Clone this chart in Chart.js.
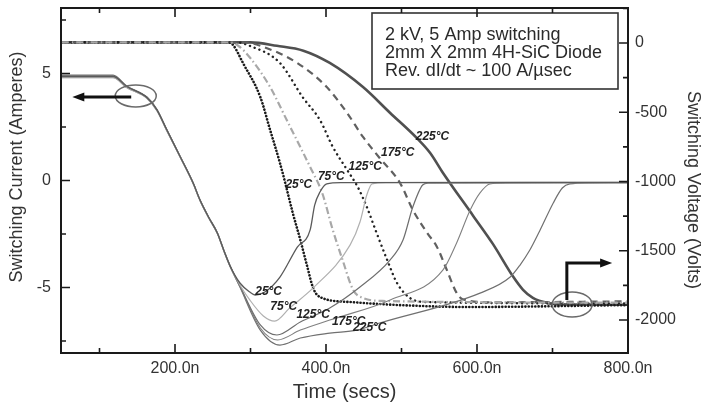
<!DOCTYPE html>
<html>
<head>
<meta charset="utf-8">
<script src="https://cdn.jsdelivr.net/npm/chart.js@4.4.1/dist/chart.umd.min.js"></script>
<style>
  html, body { margin: 0; padding: 0; background: #fff; }
  canvas { display: block; }
</style>
</head>
<body>
<canvas id="switchingChart" width="704" height="404"></canvas>
<script>
// Axis ticks (time in ns, current in A, voltage in V)
const timeTicks = [200, 400, 600, 800];
const timeMinor = [100, 300, 500, 700];
const currentTicks = [-5, 0, 5];
const currentMinor = [-7.5, -2.5, 2.5, 7.5];
const voltageTicks = [0, -500, -1000, -1500, -2000];
const voltageMinor = [250, -250, -750, -1250, -1750];

const temps = ['25°C', '75°C', '125°C', '175°C', '225°C'];

// Diode current during turn-off, [time ns, amperes]
const current25 = [[50,4.86],[118,4.86],[136,4.39],[163,3.87],[176,3.3],[189,2.37],[207,1.1],[224,-0.12],[233,-0.91],[245,-1.75],[256,-2.45],[265,-3.3],[273,-4.0],[286,-4.79],[299,-5.21],[306,-5.35],[319,-5.21],[339,-4.51],[362,-3.11],[379,-2.31],[385,-1.15],[392,-0.54],[401,-0.16],[420,-0.1],[800,-0.09]];
const current75 = [[50,4.82],[118,4.82],[136,4.35],[163,3.84],[176,3.27],[189,2.34],[207,1.08],[224,-0.14],[233,-0.93],[245,-1.77],[256,-2.47],[265,-3.32],[273,-4.02],[286,-4.88],[299,-5.58],[317,-6.33],[332,-6.57],[352,-5.95],[383,-5.02],[432,-3.01],[445,-1.94],[454,-0.68],[461,-0.16],[480,-0.1],[800,-0.09]];
const current125 = [[50,4.88],[118,4.88],[136,4.4],[163,3.88],[176,3.31],[189,2.38],[207,1.11],[224,-0.11],[233,-0.9],[245,-1.74],[256,-2.44],[265,-3.29],[273,-3.99],[286,-4.93],[313,-6.75],[335,-7.22],[366,-6.61],[405,-5.96],[445,-4.98],[485,-3.71],[502,-2.78],[515,-1.24],[528,-0.21],[535,-0.12],[800,-0.1]];
const current175 = [[50,4.8],[118,4.8],[136,4.34],[163,3.83],[176,3.26],[189,2.33],[207,1.07],[224,-0.15],[233,-0.94],[245,-1.78],[256,-2.48],[265,-3.33],[273,-4.03],[286,-4.95],[313,-6.89],[336,-7.45],[366,-6.99],[405,-6.52],[485,-5.58],[555,-4.18],[573,-2.92],[591,-1.38],[604,-0.58],[617,-0.16],[640,-0.11],[800,-0.1]];
const current225 = [[50,4.92],[118,4.92],[136,4.42],[163,3.9],[176,3.33],[189,2.39],[207,1.12],[224,-0.1],[233,-0.89],[245,-1.73],[256,-2.43],[265,-3.28],[273,-3.98],[286,-4.98],[313,-6.99],[339,-7.69],[366,-7.36],[405,-7.13],[441,-6.99],[471,-6.66],[604,-5.26],[644,-4.51],[657,-3.95],[670,-3.25],[683,-2.36],[701,-1.05],[713,-0.35],[723,-0.16],[750,-0.11],[800,-0.1]];

// Diode voltage during turn-off, [time ns, volts]
const voltage25 = [[50,5],[270,5],[277,-15],[290,-144],[313,-390],[326,-628],[339,-866],[346,-1011],[356,-1227],[366,-1422],[375,-1610],[383,-1769],[392,-1834],[432,-1870],[498,-1892],[587,-1906],[800,-1892]];
const voltage75 = [[50,5],[272,5],[285,-25],[300,-110],[326,-318],[348,-556],[366,-751],[379,-895],[395,-1083],[409,-1350],[422,-1567],[436,-1783],[449,-1841],[475,-1862],[800,-1875]];
const voltage125 = [[50,5],[282,5],[299,-20],[339,-144],[369,-390],[392,-556],[409,-750],[428,-916],[442,-1039],[454,-1183],[467,-1371],[481,-1566],[494,-1732],[511,-1840],[534,-1870],[800,-1880]];
const voltage175 = [[50,5],[292,5],[313,-20],[362,-144],[401,-318],[428,-505],[449,-678],[471,-830],[498,-1010],[515,-1205],[534,-1371],[547,-1472],[560,-1638],[573,-1804],[581,-1850],[620,-1872],[800,-1865]];
const voltage225 = [[50,5],[300,5],[335,-20],[370,-55],[405,-144],[449,-318],[485,-505],[521,-690],[538,-794],[555,-938],[595,-1248],[621,-1450],[648,-1688],[661,-1782],[674,-1840],[693,-1876],[720,-1888],[800,-1890]];

// Where the temperature tags sit, [time ns, axis value]
const currentTagAt = [[324,-5.21],[344,-5.91],[383,-6.29],[430,-6.61],[458,-6.89]];
const voltageTagAt = [[364,-1025],[407,-968],[452,-895],[495,-794],[541,-679]];

const conditions = ['2 kV, 5 Amp switching', '2mm X 2mm 4H-SiC Diode', 'Rev. dI/dt ~ 100 A/\u00b5sec'];

Chart.defaults.font.family = '"Liberation Sans", Arial, sans-serif';
Chart.defaults.color = '#333';

const toXY = pts => pts.map(([x, y]) => ({ x, y }));

function lineSet(pts, axis, color, width, dash, cap) {
    return {
        data: toXY(pts),
        yAxisID: axis,
        borderColor: color,
        borderWidth: width,
        borderDash: dash || [],
        borderCapStyle: cap || 'butt',
        pointRadius: 0,
        fill: false,
        cubicInterpolationMode: 'monotone'
    };
}

// keep the plot box fixed: no extra room for overhanging tick labels
function fixBox(size) {
    return s => {
        if (s.isHorizontal()) s.height = size; else s.width = size;
        s.paddingTop = s.paddingBottom = s.paddingLeft = s.paddingRight = 0;
    };
}

function arrowHead(ctx, x, y, dx, dy) {
    const len = 12, half = 4.5;
    ctx.beginPath();
    ctx.moveTo(x, y);
    ctx.lineTo(x - dx * len - dy * half, y - dy * len + dx * half);
    ctx.lineTo(x - dx * len + dy * half, y - dy * len - dx * half);
    ctx.closePath();
    ctx.fill();
}

const decorations = {
    id: 'decorations',
    afterDatasetsDraw(chart) {
        const { ctx, chartArea: a, scales } = chart;
        const x = scales.x, yI = scales.yI, yV = scales.yV;
        ctx.save();

        // temperature tags
        ctx.fillStyle = '#222';
        ctx.font = 'italic bold 12px "Liberation Sans", Arial, sans-serif';
        ctx.textAlign = 'center';
        ctx.textBaseline = 'middle';
        temps.forEach((t, i) => {
            ctx.fillText(t, x.getPixelForValue(currentTagAt[i][0]), yI.getPixelForValue(currentTagAt[i][1]));
            ctx.fillText(t, x.getPixelForValue(voltageTagAt[i][0]), yV.getPixelForValue(voltageTagAt[i][1]));
        });

        // ellipses marking which curve belongs to which axis
        ctx.strokeStyle = '#6a6a6a';
        ctx.lineWidth = 1.5;
        ctx.beginPath();
        ctx.ellipse(x.getPixelForValue(148), yI.getPixelForValue(3.95), 20.5, 11, 0, 0, Math.PI * 2);
        ctx.stroke();
        ctx.beginPath();
        ctx.ellipse(x.getPixelForValue(726), yV.getPixelForValue(-1888), 20, 12.5, 0, 0, Math.PI * 2);
        ctx.stroke();

        // arrows
        ctx.strokeStyle = '#111';
        ctx.fillStyle = '#111';
        ctx.lineWidth = 3;
        const ly = yI.getPixelForValue(3.9);
        const lx0 = x.getPixelForValue(142), lx1 = x.getPixelForValue(64);
        ctx.beginPath();
        ctx.moveTo(lx0, ly);
        ctx.lineTo(lx1 + 10, ly);
        ctx.stroke();
        arrowHead(ctx, lx1, ly, -1, 0);

        const rx = x.getPixelForValue(719), rx1 = x.getPixelForValue(779);
        const ry0 = yV.getPixelForValue(-1856), ry1 = yV.getPixelForValue(-1588);
        ctx.beginPath();
        ctx.moveTo(rx, ry0);
        ctx.lineTo(rx, ry1);
        ctx.lineTo(rx1 - 10, ry1);
        ctx.stroke();
        arrowHead(ctx, rx1, ry1, 1, 0);

        // test conditions box
        const bx = a.right - 256, by = a.top + 5, bw = 246, bh = 76;
        ctx.fillStyle = '#fff';
        ctx.fillRect(bx, by, bw, bh);
        ctx.strokeStyle = '#333';
        ctx.lineWidth = 1.6;
        ctx.strokeRect(bx, by, bw, bh);
        ctx.fillStyle = '#2a2a2a';
        ctx.font = '18px "Liberation Sans", Arial, sans-serif';
        ctx.textAlign = 'left';
        conditions.forEach((line, i) => ctx.fillText(line, bx + 13, by + 22 + i * 18));

        // inward tick marks and frame
        ctx.strokeStyle = '#1a1a1a';
        ctx.lineWidth = 1.6;
        ctx.beginPath();
        const tickX = (vals, len) => vals.forEach(v => {
            const px = x.getPixelForValue(v);
            ctx.moveTo(px, a.bottom); ctx.lineTo(px, a.bottom - len);
            ctx.moveTo(px, a.top); ctx.lineTo(px, a.top + len);
        });
        const tickY = (scale, vals, len, edge, dir) => vals.forEach(v => {
            const py = scale.getPixelForValue(v);
            ctx.moveTo(edge, py); ctx.lineTo(edge + dir * len, py);
        });
        tickX(timeTicks, 9);
        tickX(timeMinor, 5);
        tickY(yI, currentTicks, 9, a.left, 1);
        tickY(yI, currentMinor, 5, a.left, 1);
        tickY(yV, voltageTicks, 9, a.right, -1);
        tickY(yV, voltageMinor, 5, a.right, -1);
        ctx.stroke();
        ctx.lineWidth = 2;
        ctx.strokeRect(a.left, a.top, a.right - a.left, a.bottom - a.top);

        // vertical axis titles
        ctx.fillStyle = '#333';
        ctx.font = '18px "Liberation Sans", Arial, sans-serif';
        ctx.textAlign = 'center';
        ctx.textBaseline = 'middle';
        ctx.save();
        ctx.translate(17, 167);
        ctx.rotate(-Math.PI / 2);
        ctx.fillText('Switching Current (Amperes)', 0, 0);
        ctx.restore();
        ctx.save();
        ctx.translate(693, 190);
        ctx.rotate(Math.PI / 2);
        ctx.fillText('Switching Voltage (Volts)', 0, 0);
        ctx.restore();

        ctx.restore();
    }
};

const ctx = document.getElementById('switchingChart').getContext('2d');

new Chart(ctx, {
    type: 'line',
    data: {
        datasets: [
            lineSet(current25, 'yI', '#5a5a5a', 1.3),
            lineSet(current75, 'yI', '#b0b0b0', 1.2),
            lineSet(current125, 'yI', '#6e6e6e', 1.2),
            lineSet(current175, 'yI', '#808080', 1.1),
            lineSet(current225, 'yI', '#707070', 1.2),
            lineSet(voltage75, 'yV', '#a8a8a8', 2.2, [7, 3, 1.5, 3]),
            lineSet(voltage175, 'yV', '#606060', 2.2, [7, 5]),
            lineSet(voltage125, 'yV', '#222', 2.4, [0.1, 5], 'round'),
            lineSet(voltage25, 'yV', '#1a1a1a', 2.6, [0.1, 3.2], 'round'),
            lineSet(voltage225, 'yV', '#505050', 2.6)
        ]
    },
    options: {
        responsive: false,
        animation: false,
        layout: { padding: { top: 8 } },
        plugins: {
            legend: { display: false },
            tooltip: { enabled: false }
        },
        scales: {
            x: {
                type: 'linear',
                min: 49,
                max: 800,
                afterBuildTicks: s => { s.ticks = timeTicks.map(v => ({ value: v })); },
                ticks: {
                    font: { size: 16 },
                    color: '#333',
                    padding: 6,
                    maxRotation: 0,
                    callback: v => v.toFixed(1) + 'n'
                },
                grid: { display: false, drawTicks: false },
                border: { display: false },
                title: {
                    display: true,
                    text: 'Time (secs)',
                    font: { size: 20 },
                    color: '#333',
                    padding: { top: 0, bottom: 0 }
                },
                afterFit: fixBox(51)
            },
            yI: {
                type: 'linear',
                position: 'left',
                min: -8.06,
                max: 8.06,
                afterBuildTicks: s => { s.ticks = currentTicks.map(v => ({ value: v })); },
                ticks: { font: { size: 16 }, color: '#333', padding: 10, callback: v => String(v) },
                grid: { display: false, drawTicks: false },
                border: { display: false },
                afterFit: fixBox(61)
            },
            yV: {
                type: 'linear',
                position: 'right',
                min: -2238,
                max: 253,
                afterBuildTicks: s => { s.ticks = voltageTicks.map(v => ({ value: v })); },
                ticks: { font: { size: 16 }, color: '#333', padding: 7, callback: v => String(v) },
                grid: { display: false, drawTicks: false },
                border: { display: false },
                afterFit: fixBox(76)
            }
        }
    },
    plugins: [decorations]
});
</script>
</body>
</html>
